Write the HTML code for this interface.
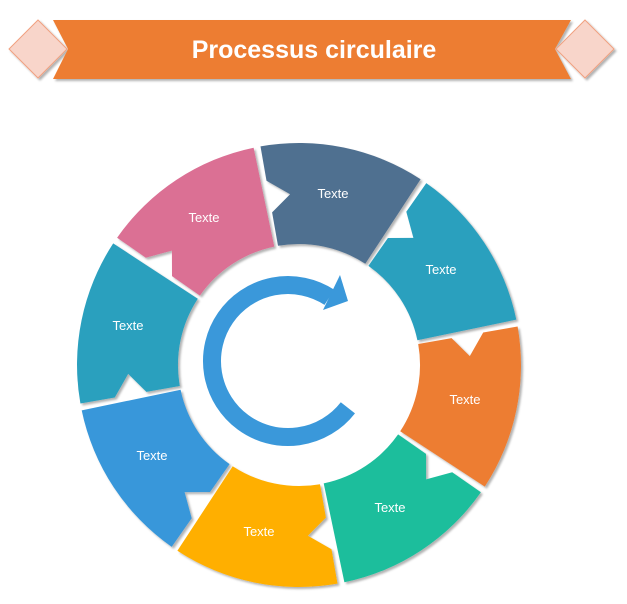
<!DOCTYPE html>
<html><head><meta charset="utf-8"><style>
html,body{margin:0;padding:0;background:#fff;width:627px;height:604px;overflow:hidden}
svg{display:block}
text{font-family:"Liberation Sans",sans-serif}
</style></head><body>
<svg id="s" width="627" height="604" viewBox="0 0 627 604" xmlns="http://www.w3.org/2000/svg">
<defs>
<filter id="sh" x="-10%" y="-10%" width="130%" height="130%">
<feDropShadow dx="2" dy="2" stdDeviation="1" flood-color="#000" flood-opacity="0.3"/>
</filter>
</defs>
<g filter="url(#sh)">
<polygon points="53,20 571,20 555,49 571,79 53,79 68,49" fill="#ED7D31"/>
<polygon points="38,20 67,49 38,78 9,49" fill="#F8D5CA" stroke="#F0A080" stroke-width="1"/>
<polygon points="585,20 614,49 585,78 556,49" fill="#F8D5CA" stroke="#F0A080" stroke-width="1"/>
</g>
<text x="314" y="58" text-anchor="middle" font-size="25" font-weight="bold" fill="#fff">Processus circulaire</text>
<g id="segs" filter="url(#sh)"></g>
<g fill="#3A98DA">
<path id="arc" fill="none" stroke="#3A98DA" stroke-width="18"/>
<polygon points="348,301 340,275 323,310"/>
</g>
<g font-size="13" fill="#fff" text-anchor="middle">
<text x="333" y="198">Texte</text>
<text x="441" y="274">Texte</text>
<text x="465" y="404">Texte</text>
<text x="390" y="512">Texte</text>
<text x="259" y="536">Texte</text>
<text x="152" y="460">Texte</text>
<text x="128" y="330">Texte</text>
<text x="204" y="222">Texte</text>
</g>
</svg>
<script>
(function(){
var cx=299,cy=365,R=222,r=121;
var cols=["#507090","#2CA0BE","#ED7D31","#1DBE9C","#FFAF00","#3897DA","#2CA0BE","#DB6F94"];
function P(rad,deg){var t=deg*Math.PI/180;return (cx+rad*Math.sin(t)).toFixed(1)+","+(cy-rad*Math.cos(t)).toFixed(1);}
var g=document.getElementById("segs"),h="";
for(var k=0;k<8;k++){
 var a1=-10+45*k,a2=a1+43.2;
 var d="M"+P(r,a1)+" L"+P(155,a1)+" L"+P(171,a1+7)+" L"+P(187,a1)+" L"+P(R,a1)+
 " A"+R+","+R+" 0 0 1 "+P(R,a2)+" L"+P(r,a2)+" A"+r+","+r+" 0 0 0 "+P(r,a1)+"Z";
 h+='<path d="'+d+'" fill="'+cols[k]+'"/>';
}
g.innerHTML=h;
var ax=288,ay=361,ar=76;
function Q(deg){var t=deg*Math.PI/180;return (ax+ar*Math.cos(t)).toFixed(1)+","+(ay+ar*Math.sin(t)).toFixed(1);}
document.getElementById("arc").setAttribute("d","M"+Q(38)+" A"+ar+","+ar+" 0 1 1 "+Q(-57));
})();
</script>
</body></html>
